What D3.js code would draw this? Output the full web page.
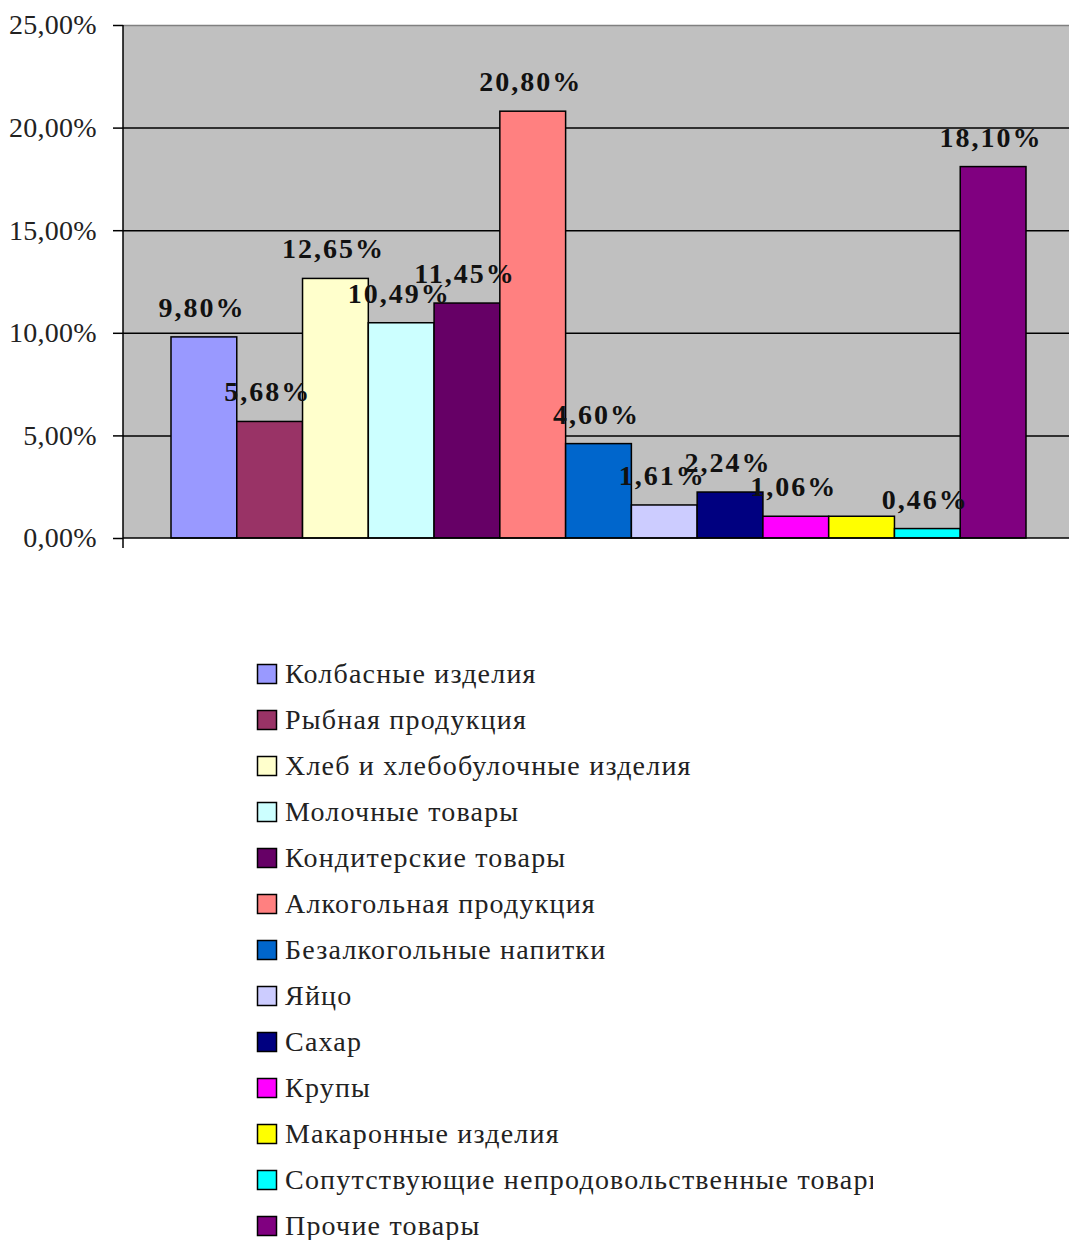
<!DOCTYPE html>
<html>
<head>
<meta charset="utf-8">
<script src="https://cdn.jsdelivr.net/npm/d3@7"></script>
<style>
  body { margin: 0; background: #fff; }
  svg { display: block; font-family: "Liberation Serif", "Times New Roman", serif; }
</style>
</head>
<body>
<div id="chart"></div>
<script>
// data
const categories = [
  "Колбасные изделия", "Рыбная продукция", "Хлеб и хлебобулочные изделия",
  "Молочные товары", "Кондитерские товары", "Алкогольная продукция",
  "Безалкогольные напитки", "Яйцо", "Сахар", "Крупы", "Макаронные изделия",
  "Сопутствующие непродовольственные товары", "Прочие товары"
]
const values = [9.80, 5.68, 12.65, 10.49, 11.45, 20.80, 4.60, 1.61, 2.24, 1.06, 1.06, 0.46, 18.10]
const showLabel = [1, 1, 1, 1, 1, 1, 1, 1, 1, 1, 0, 1, 1]
const colors = ["#9999FF", "#993366", "#FFFFCC", "#CCFFFF", "#660066", "#FF8080",
  "#0066CC", "#CCCCFF", "#000080", "#FF00FF", "#FFFF00", "#00FFFF", "#800080"]
const yTicks = [0, 5, 10, 15, 20, 25]

const width = 1069, height = 1240
const margin = {top: 25, left: 123, right: -5, bottom: 702}

const fmt = v => v.toFixed(2).replace(".", ",") + "%"

const svg = d3.select("#chart").append("svg")
  .attr("width", width).attr("height", height)

const y = d3.scaleLinear().domain([0, 25]).range([height - margin.bottom, margin.top])
const x = d3.scaleBand()
  .domain(d3.range(categories.length))
  .range([margin.left + 48, width - margin.right - 48])
  .paddingInner(0).paddingOuter(0)

// plot background
svg.append("rect")
  .attr("x", margin.left).attr("y", margin.top)
  .attr("width", width - margin.right - margin.left)
  .attr("height", y(0) - margin.top)
  .attr("fill", "#C0C0C0")

// gridlines
svg.append("g")
  .selectAll("line")
  .data(yTicks.filter(d => d > 0 && d < 25))
  .join("line")
    .attr("x1", margin.left).attr("x2", width)
    .attr("y1", d => y(d) + 0.5).attr("y2", d => y(d) + 0.5)
    .attr("stroke", "#000").attr("stroke-width", 1.5)
svg.append("line")
  .attr("x1", margin.left).attr("x2", width)
  .attr("y1", y(25) + 0.5).attr("y2", y(25) + 0.5)
  .attr("stroke", "#808080").attr("stroke-width", 1.5)

// bars
svg.append("g")
  .selectAll("rect")
  .data(values)
  .join("rect")
    .attr("x", (d, i) => x(i))
    .attr("y", d => y(d))
    .attr("width", x.bandwidth())
    .attr("height", d => y(0) - y(d))
    .attr("fill", (d, i) => colors[i])
    .attr("stroke", "#000").attr("stroke-width", 1.5)

// y axis
const yAxis = svg.append("g")
  .attr("transform", `translate(${margin.left},0)`)
  .call(d3.axisLeft(y).tickValues(yTicks).tickFormat(fmt).tickSize(10).tickPadding(16))
yAxis.select(".domain").remove()
yAxis.selectAll("line").attr("stroke", "#000").attr("stroke-width", 1.5)
yAxis.selectAll("text")
  .attr("font-family", "Liberation Serif").attr("font-size", 28)
  .attr("letter-spacing", 0.3).attr("fill", "#222")
svg.append("line")
  .attr("x1", margin.left).attr("x2", margin.left)
  .attr("y1", margin.top).attr("y2", y(0) + 10)
  .attr("stroke", "#000").attr("stroke-width", 1.5)
svg.append("line")
  .attr("x1", margin.left).attr("x2", width)
  .attr("y1", y(0)).attr("y2", y(0))
  .attr("stroke", "#000").attr("stroke-width", 1.5)

// value labels
svg.append("g")
  .selectAll("text")
  .data(values.map((v, i) => ({v, i})).filter(d => showLabel[d.i]))
  .join("text")
    .attr("x", d => x(d.i) + x.bandwidth() / 2 - 2)
    .attr("y", d => y(d.v) - 20)
    .attr("text-anchor", "middle")
    .attr("font-weight", "bold").attr("font-size", 28)
    .attr("letter-spacing", 2)
    .attr("fill", "#111")
    .text(d => fmt(d.v))

// legend
svg.append("clipPath").attr("id", "lgclip")
  .append("rect").attr("x", 0).attr("y", 600).attr("width", 873).attr("height", 640)
const legend = svg.append("g").attr("clip-path", "url(#lgclip)")
  .selectAll("g")
  .data(categories)
  .join("g")
    .attr("transform", (d, i) => `translate(257,${674 + i * 46})`)
legend.append("rect")
  .attr("x", 0.5).attr("y", -9.5).attr("width", 19).attr("height", 19)
  .attr("fill", (d, i) => colors[i]).attr("stroke", "#000").attr("stroke-width", 1.5)
legend.append("text")
  .attr("x", 28).attr("y", 9)
  .attr("font-size", 28).attr("fill", "#222")
  .attr("letter-spacing", 1.2)
  .text(d => d)
</script>
</body>
</html>
